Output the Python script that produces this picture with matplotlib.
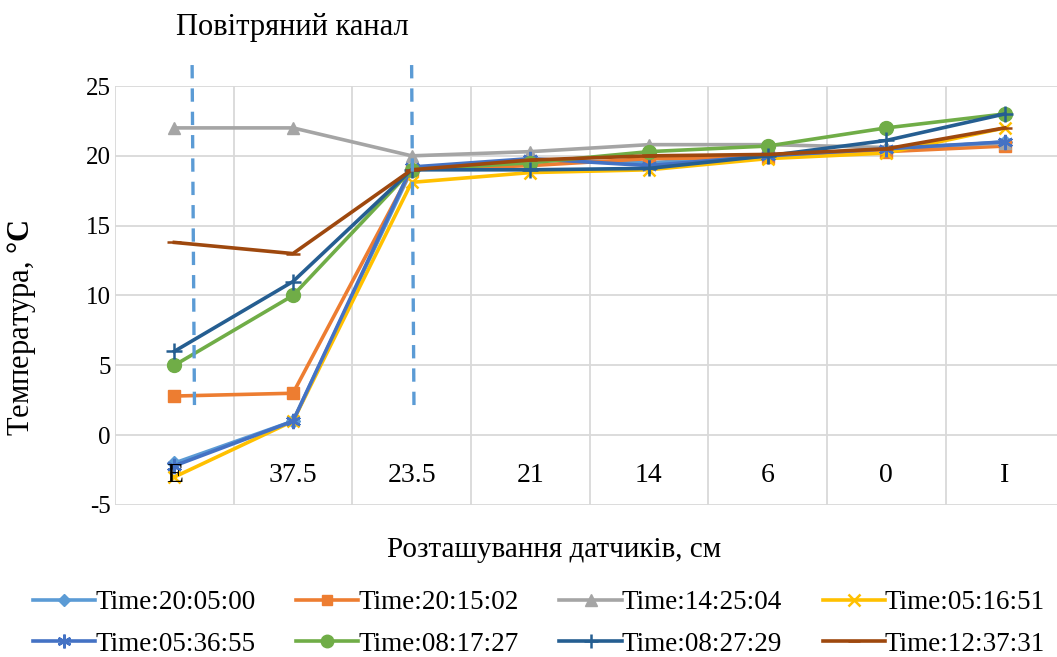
import numpy as np
import matplotlib.pyplot as plt
from matplotlib.lines import Line2D

plt.rcParams['font.family'] = ['Liberation Serif', 'DejaVu Serif']
plt.rcParams['axes.unicode_minus'] = False
plt.rcParams['mathtext.fontset'] = 'custom'
plt.rcParams['mathtext.rm'] = 'Liberation Serif'
plt.rcParams['mathtext.bf'] = 'Liberation Serif:bold'

# Дані
positions = ["E", "37.5", "23.5", "21", "14", "6", "0", "I"]
t_200500 = [-2.0, 1.0, 19.0, 19.7, 19.5, 20.0, 20.4, 21.0]
t_201502 = [2.8, 3.0, 19.0, 19.3, 19.8, 19.9, 20.3, 20.7]
t_142504 = [22.0, 22.0, 20.0, 20.3, 20.8, 20.8, 20.6, 20.9]
t_051651 = [-3.0, 1.0, 18.1, 18.8, 19.0, 19.8, 20.2, 22.0]
t_053655 = [-2.2, 1.0, 19.2, 19.8, 19.3, 20.0, 20.5, 21.0]
t_081727 = [5.0, 10.0, 19.0, 19.5, 20.3, 20.7, 22.0, 23.0]
t_082729 = [6.0, 11.0, 19.0, 19.0, 19.1, 20.0, 21.1, 23.0]
t_123731 = [13.8, 13.0, 19.0, 19.7, 20.0, 20.1, 20.5, 22.0]

series = [
    ("Time:20:05:00", t_200500, "#5B9BD5", "D", 7),
    ("Time:20:15:02", t_201502, "#ED7D31", "s", 8),
    ("Time:14:25:04", t_142504, "#A5A5A5", "^", 9),
    ("Time:05:16:51", t_051651, "#FFC000", "x", 9),
    ("Time:05:36:55", t_053655, "#4472C4", (6, 2, 0), 11),
    ("Time:08:17:27", t_081727, "#70AD47", "o", 10),
    ("Time:08:27:29", t_082729, "#255E91", "+", 11),
    ("Time:12:37:31", t_123731, "#9E480E", "_", 10),
]

channel_x = [0.15, 2.0]  # межі повітряного каналу (в позиціях категорій)

fig = plt.figure(figsize=(10.57, 6.57), dpi=100)
ax = fig.add_axes([0.1088, 0.2314, 0.898, 0.6377])

x = np.arange(len(positions))
handles = []
for label, vals, color, marker, ms in series:
    mew = 1.8 if marker in ("x", "+", "_") or isinstance(marker, tuple) else 1
    ax.plot(x, vals, color=color, lw=2.6, marker=marker, markersize=ms,
            markeredgewidth=mew, markeredgecolor=color, markerfacecolor=color,
            zorder=3)
    handles.append(Line2D([0], [0], color=color, lw=2.6, marker=marker,
                          markersize=ms * 0.9, markeredgewidth=mew,
                          markeredgecolor=color, markerfacecolor=color))

# Пунктирні лінії каналу
for cx in channel_x:
    ax.plot([cx, cx + 0.02], [26.5, 1.8], ls=(0, (4, 3)), color="#5B9BD5",
            lw=2.4, clip_on=False, zorder=4)

ax.set_xlim(-0.5, len(positions) - 0.5)
ax.set_ylim(-5, 25)
ax.set_yticks(np.arange(-5, 26, 5))
ax.set_xticks([])
ax.set_xticks(np.arange(-0.5, len(positions), 1), minor=True)
ax.grid(True, axis="y", color="#D9D9D9", lw=1.3)
ax.grid(True, axis="x", which="minor", color="#D9D9D9", lw=1.3)
ax.tick_params(axis="both", which="both", length=0)
ax.tick_params(axis="y", labelsize=18, pad=3)
for s in ax.spines.values():
    s.set_visible(False)
ax.set_axisbelow(True)

# Підписи категорій біля нуля
for xi, lab in zip(x, positions):
    ax.text(xi, -2.9, lab, ha="center", va="center", fontsize=20, zorder=5)

ax.set_ylabel("Температура, $\\mathbf{°C}$", fontsize=22)
ax.yaxis.set_label_coords(-0.081, 0.422)
ax.set_xlabel("Розташування датчиків, см", fontsize=21)
ax.xaxis.set_label_coords(0.463, -0.076)

fig.text(0.277, 0.958, "Повітряний канал", ha="center", va="center", fontsize=22)

# легенда заповнюється по рядках
order = [0, 4, 1, 5, 2, 6, 3, 7]
fig.legend([handles[i] for i in order], [series[i][0] for i in order],
           loc="lower center", ncol=4, bbox_to_anchor=(0.51, -0.037),
           frameon=False, fontsize=19.5, handlelength=2.3, handletextpad=0.0,
           columnspacing=1.5, labelspacing=0.62)

fig.savefig("out.png", dpi=100)
